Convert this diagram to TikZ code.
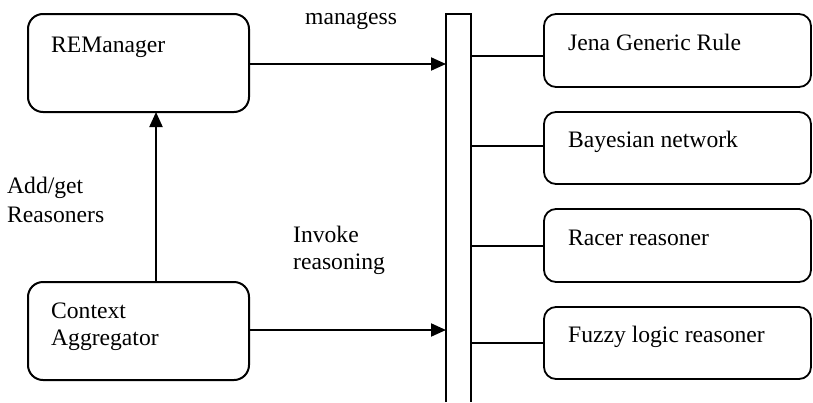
\documentclass[tikz,border=0pt]{standalone}
\usepackage{fontspec}
\setmainfont{Liberation Serif}
\usetikzlibrary{arrows.meta}
\begin{document}
\begin{tikzpicture}[x=1pt,y=-1pt,
  lbl/.style={anchor=base west,inner sep=0pt,font=\fontsize{23.6}{27}\selectfont},
  lbox/.style={draw,line width=2pt,rounded corners=15pt},
  rbox/.style={draw,line width=1.8pt,rounded corners=12pt},
  conn/.style={line width=1.8pt},
  arr/.style={line width=2pt,-{Triangle[length=15pt,width=13pt]}}]
\useasboundingbox (0,0) rectangle (813,402);
% left boxes
\draw[lbox] (28,14) rectangle (249,112);
\draw[lbox] (28,282) rectangle (249,380);
% bar
\coordinate (barTL) at (446,14);
\coordinate (barTR) at (471,14);
\draw[conn] (446,402) -- (barTL) -- (barTR) -- (471,402);
% right boxes
\draw[rbox] (544,14) rectangle (811,87);
\draw[rbox] (544,112) rectangle (811,184);
\draw[rbox] (544,209) rectangle (811,282);
\draw[rbox] (544,307) rectangle (811,379);
% named points
\coordinate (remR) at (249,64);
\coordinate (remB) at (156,112);
\coordinate (caT) at (156,282);
\coordinate (caR) at (249,330);
\coordinate (barIn1) at (446,64);
\coordinate (barIn2) at (446,330);
\foreach \y/\n in {56/a,146/b,246/c,343/d}{
  \coordinate (bo\n) at (471,\y);
  \coordinate (bi\n) at (544,\y);
  \draw[conn] (bo\n) -- (bi\n);
}
% arrows
\draw[arr] (remR) -- (barIn1);
\draw[arr] (caR) -- (barIn2);
\draw[arr] (caT) -- (remB);
% labels
\node[lbl] (t1) at (51,52) {REManager};
\node[lbl] (t2) at (51,318) {Context};
\node[lbl] (t3) at (51,345) {Aggregator};
\node[lbl] (t4) at (305,24) {managess};
\node[lbl] (t5) at (7,193) {Add/get};
\node[lbl] (t6) at (7,222) {Reasoners};
\node[lbl] (t7) at (293,242) {Invoke};
\node[lbl] (t8) at (293,269) {reasoning};
\node[lbl] (r1) at (568,50) {Jena Generic Rule};
\node[lbl] (r2) at (568,147) {Bayesian network};
\node[lbl] (r3) at (568,245) {Racer reasoner};
\node[lbl] (r4) at (568,342) {Fuzzy logic reasoner};
\end{tikzpicture}
\end{document}
